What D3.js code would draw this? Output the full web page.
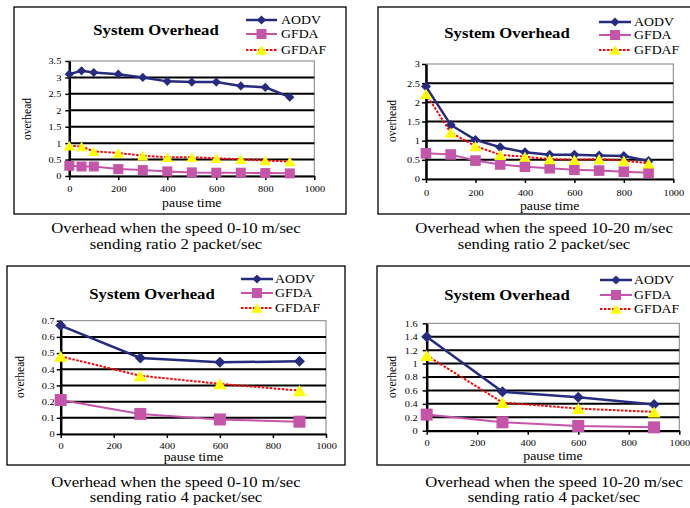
<!DOCTYPE html>
<html>
<head>
<meta charset="utf-8">
<script src="https://cdn.jsdelivr.net/npm/d3@7"></script>
<style>
  html, body { margin: 0; padding: 0; background: #fff; }
  svg { display: block; }
  svg text { font-family: "Liberation Serif", "Times New Roman", serif; }
</style>
</head>
<body>
<div id="chart"></div>
<script>
// ---- data ----
const seriesNames = ['AODV', 'GFDA', 'GFDAF'];

const pause1 = [0, 50, 100, 200, 300, 400, 500, 600, 700, 800, 900];
const aodv1  = [3.1, 3.2, 3.15, 3.1, 3.0, 2.88, 2.86, 2.86, 2.74, 2.7, 2.4];
const gfda1  = [0.31, 0.29, 0.29, 0.21, 0.18, 0.14, 0.11, 0.1, 0.1, 0.09, 0.08];
const gfdaf1 = [0.92, 0.9, 0.75, 0.7, 0.62, 0.57, 0.57, 0.54, 0.51, 0.47, 0.44];

const pause2 = [0, 100, 200, 300, 400, 500, 600, 700, 800, 900];
const aodv2  = [2.41, 1.41, 1.02, 0.83, 0.7, 0.63, 0.63, 0.61, 0.6, 0.47];
const gfda2  = [0.67, 0.64, 0.48, 0.38, 0.32, 0.28, 0.24, 0.22, 0.19, 0.16];
const gfdaf2 = [2.22, 1.21, 0.86, 0.63, 0.58, 0.52, 0.5, 0.52, 0.48, 0.41];

const pause3 = [0, 300, 600, 900];
const aodv3  = [0.67, 0.47, 0.443, 0.449];
const gfda3  = [0.21, 0.124, 0.09, 0.076];
const gfdaf3 = [0.48, 0.36, 0.31, 0.268];

const pause4 = [0, 300, 600, 900];
const aodv4  = [1.4, 0.58, 0.5, 0.39];
const gfda4  = [0.24, 0.125, 0.07, 0.05];
const gfdaf4 = [1.12, 0.42, 0.33, 0.28];

const xTicks  = [0, 200, 400, 600, 800, 1000];
const yTicks1 = [0, 0.5, 1, 1.5, 2, 2.5, 3, 3.5];
const yTicks2 = [0, 0.5, 1, 1.5, 2, 2.5, 3];
const yTicks3 = [0, 0.1, 0.2, 0.3, 0.4, 0.5, 0.6, 0.7];
const yTicks4 = [0, 0.2, 0.4, 0.6, 0.8, 1, 1.2, 1.4, 1.6];

const chartTitle = 'System Overhead';
const xTitle = 'pause time';
const yTitle = 'overhead';
const captions1 = ['Overhead when the speed 0-10 m/sec', 'sending ratio 2 packet/sec'];
const captions2 = ['Overhead when the speed 10-20 m/sec', 'sending ratio 2 packet/sec'];
const captions3 = ['Overhead when the speed 0-10 m/sec', 'sending ratio 4 packet/sec'];
const captions4 = ['Overhead when the speed 10-20 m/sec', 'sending ratio 4 packet/sec'];

// ---- styling ----
const serif = '"Liberation Serif", "Times New Roman", serif';
const colors = { AODV: '#262b80', GFDA: '#c455a8', GFDAF: '#ff0000' };
const markerFill = { AODV: '#262b80', GFDA: '#c455a8', GFDAF: '#ffff00' };
const stretch = 1.15; // the scanned figure is a little wide

// custom marker shapes (size = half width)
const diamondShape = { draw(ctx, s) { ctx.moveTo(0, -s); ctx.lineTo(s, 0); ctx.lineTo(0, s); ctx.lineTo(-s, 0); ctx.closePath(); } };
const squareShape = { draw(ctx, s) { ctx.rect(-s, -s, 2 * s, 2 * s); } };
const triangleShape = { draw(ctx, s) { const h = s * 0.85; ctx.moveTo(0, -h); ctx.lineTo(s, h); ctx.lineTo(-s, h); ctx.closePath(); } };
const shapes = { AODV: diamondShape, GFDA: squareShape, GFDAF: triangleShape };

// ---- layout of each panel ----
const panels = [
  { pause: pause1, values: [aodv1, gfda1, gfdaf1], yTicks: yTicks1, captions: captions1,
    box: [14, 7, 346, 214], plot: { l: 69.3, r: 314.3, t: 61, b: 176 },
    title: [156, 35], legend: { x0: 246, x1: 277, tx: 281, rows: [20, 34, 50] },
    yLab: [31, 119], gap: 8, xLabY: 192, pauseY: 207, capX: 176, capY: [233, 249], mk: [4.6, 5, 5.6] },
  { pause: pause2, values: [aodv2, gfda2, gfdaf2], yTicks: yTicks2, captions: captions2,
    box: [378, 7, 700, 214], plot: { l: 426, r: 673.3, t: 64, b: 179 },
    title: [507, 38], legend: { x0: 599, x1: 631, tx: 634, rows: [22, 35, 50] },
    yLab: [396, 121], gap: 6, xLabY: 196, pauseY: 210, capX: 544, capY: [233, 249], mk: [5, 5.3, 6] },
  { pause: pause3, values: [aodv3, gfda3, gfdaf3], yTicks: yTicks3, captions: captions3,
    box: [7, 266, 345, 465], plot: { l: 60.7, r: 326, t: 320.7, b: 434 },
    title: [152, 299], legend: { x0: 241, x1: 273, tx: 275, rows: [279, 293, 308] },
    yLab: [24, 377], gap: 6, xLabY: 449, pauseY: 461, capX: 176, capY: [487, 502], mk: [5.5, 6, 6.5] },
  { pause: pause4, values: [aodv4, gfda4, gfdaf4], yTicks: yTicks4, captions: captions4,
    box: [377, 266, 700, 465], plot: { l: 426.7, r: 679.3, t: 323.3, b: 430.7 },
    title: [507, 300], legend: { x0: 600, x1: 632, tx: 634, rows: [280, 295, 309] },
    yLab: [396, 377], gap: 9, xLabY: 446, pauseY: 460, capX: 554, capY: [487, 502], mk: [5.5, 6, 6.5] }
];

const svg = d3.select('#chart').append('svg')
  .attr('width', 690)
  .attr('height', 508);

// text helper: horizontally stretched like the scan
function addText(parent, x, y, str, size, anchor, weight) {
  return parent.append('text')
    .attr('transform', 'translate(' + x + ',' + y + ') scale(' + stretch + ',1)')
    .attr('text-anchor', anchor || 'middle')
    .attr('font-family', serif)
    .attr('font-size', size)
    .attr('font-weight', weight || 'normal')
    .attr('fill', '#000')
    .text(str);
}

function marker(name, size) {
  return d3.symbol().type(shapes[name]).size(size)();
}

panels.forEach(function(p) {
  const g = svg.append('g');

  // outer frame
  g.append('rect')
    .attr('x', p.box[0]).attr('y', p.box[1])
    .attr('width', p.box[2] - p.box[0]).attr('height', p.box[3] - p.box[1])
    .attr('fill', '#fff').attr('stroke', '#000').attr('stroke-width', 1.3);

  const yMax = p.yTicks[p.yTicks.length - 1];
  const x = d3.scaleLinear().domain([0, 1000]).range([p.plot.l, p.plot.r]);
  const y = d3.scaleLinear().domain([0, yMax]).range([p.plot.b, p.plot.t]);

  // plot area border (grey)
  g.append('rect')
    .attr('x', p.plot.l).attr('y', p.plot.t)
    .attr('width', p.plot.r - p.plot.l).attr('height', p.plot.b - p.plot.t)
    .attr('fill', '#fff').attr('stroke', '#808080').attr('stroke-width', 1);

  // gridlines
  g.append('g').selectAll('line')
    .data(p.yTicks.filter(d => d > 0 && d < yMax))
    .enter().append('line')
    .attr('x1', p.plot.l).attr('x2', p.plot.r)
    .attr('y1', d => y(d)).attr('y2', d => y(d))
    .attr('stroke', '#000').attr('stroke-width', 2);

  // axes
  const xAxis = g.append('g')
    .attr('transform', 'translate(0,' + p.plot.b + ')')
    .call(d3.axisBottom(x).tickValues(xTicks).tickSize(4).tickSizeOuter(0).tickFormat(d3.format('d')))
    .attr('font-family', serif);
  xAxis.select('.domain').attr('stroke-width', 2.2);
  xAxis.selectAll('.tick line').attr('stroke-width', 1.5);
  xAxis.selectAll('.tick text')
    .attr('y', null).attr('dy', null)
    .attr('transform', 'translate(0,' + (p.xLabY - p.plot.b) + ') scale(' + stretch + ',1)')
    .attr('font-size', 9).attr('font-family', serif);

  const yAxis = g.append('g')
    .attr('transform', 'translate(' + p.plot.l + ',0)')
    .call(d3.axisLeft(y).tickValues(p.yTicks).tickSize(4).tickSizeOuter(0).tickFormat(d3.format('~g')))
    .attr('font-family', serif);
  yAxis.select('.domain').attr('stroke-width', 2.5);
  yAxis.selectAll('.tick line').attr('stroke-width', 1.5);
  yAxis.selectAll('.tick text')
    .attr('x', null).attr('dy', '0.32em')
    .attr('transform', 'translate(' + (-p.gap) + ',0) scale(' + stretch + ',1)')
    .attr('font-size', 9).attr('font-family', serif);
  g.selectAll('.tick text').attr('fill', '#000');

  // series
  seriesNames.forEach(function(name, i) {
    const pts = p.pause.map((px, j) => [px, p.values[i][j]]);
    const line = d3.line().x(d => x(d[0])).y(d => y(d[1]));
    const path = g.append('path')
      .datum(pts)
      .attr('d', line)
      .attr('fill', 'none')
      .attr('stroke', colors[name])
      .attr('stroke-width', name === 'AODV' ? 2.5 : 2);
    if (name === 'GFDAF') path.attr('stroke-dasharray', '2.5,1.5');

    g.append('g').selectAll('path')
      .data(pts)
      .enter().append('path')
      .attr('transform', d => 'translate(' + x(d[0]) + ',' + y(d[1]) + ')')
      .attr('d', marker(name, p.mk[i]))
      .attr('fill', markerFill[name]);
  });

  // legend
  seriesNames.forEach(function(name, i) {
    const ly = p.legend.rows[i];
    const seg = g.append('line')
      .attr('x1', p.legend.x0).attr('x2', p.legend.x1)
      .attr('y1', ly).attr('y2', ly)
      .attr('stroke', colors[name])
      .attr('stroke-width', name === 'AODV' ? 2.5 : 2);
    if (name === 'GFDAF') seg.attr('stroke-dasharray', '2.5,1.5');
    g.append('path')
      .attr('transform', 'translate(' + ((p.legend.x0 + p.legend.x1) / 2) + ',' + ly + ')')
      .attr('d', marker(name, [4.6, 5, 5.6][i]))
      .attr('fill', markerFill[name]);
    addText(g, p.legend.tx, ly + 4.2, name, 12, 'start');
  });

  // titles
  addText(g, p.title[0], p.title[1], chartTitle, 14.5, 'middle', 'bold');
  addText(g, (p.plot.l + p.plot.r) / 2, p.pauseY, xTitle, 12, 'middle');
  g.append('text')
    .attr('transform', 'translate(' + p.yLab[0] + ',' + p.yLab[1] + ') rotate(-90) scale(1,' + stretch + ')')
    .attr('text-anchor', 'middle')
    .attr('font-family', serif)
    .attr('font-size', 11.5)
    .attr('fill', '#000')
    .text(yTitle);

  // caption below the frame
  addText(svg, p.capX, p.capY[0], p.captions[0], 14.5, 'middle');
  addText(svg, p.capX, p.capY[1], p.captions[1], 14.5, 'middle');
});
</script>
</body>
</html>
